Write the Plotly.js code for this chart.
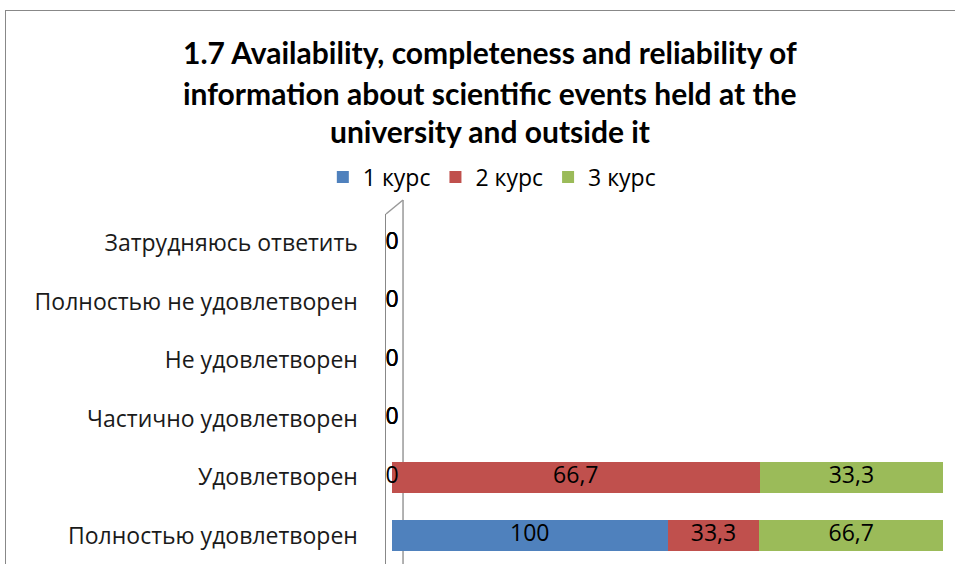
<!DOCTYPE html>
<html>
<head>
<meta charset="utf-8">
<script src="https://cdn.plot.ly/plotly-3.0.1.min.js"></script>
<style>
html,body{margin:0;padding:0;background:#fff;}
#wrap{position:relative;width:955px;height:564px;overflow:hidden;}
#chart{width:955px;height:564px;}
#frame{position:absolute;left:5px;top:10px;width:960px;height:600px;border-left:1px solid #888;border-top:1px solid #888;pointer-events:none;}
</style>
</head>
<body>
<div id="wrap"><div id="chart"></div><div id="frame"></div></div>
<script>
const categories = ['Полностью удовлетворен','Удовлетворен','Частично удовлетворен','Не удовлетворен','Полностью не удовлетворен','Затрудняюсь ответить'];
const seriesNames = ['1 курс','2 курс','3 курс'];
const kurs1 = [100, 0, 0, 0, 0, 0];
const kurs2 = [33.3, 66.7, 0, 0, 0, 0];
const kurs3 = [66.7, 33.3, 0, 0, 0, 0];
const titleLines = ['1.7 Availability, completeness and reliability of','information about scientific events held at the','university and outside it'];

const colors = ['#4F81BD','#C0504D','#9BBB59'];
const series = [kurs1, kurs2, kurs3];
const fmt = v => String(v).replace('.', ',');
const FONT = 'Open Sans, sans-serif';

const traces = [];
series.forEach((vals, i) => {
  traces.push({
    type:'bar', orientation:'h', name:seriesNames[i],
    x: vals, y: categories,
    marker:{color:colors[i], line:{width:0}},
    hoverinfo:'x+name'
  });
});
// labels centered in each (100%-normalised) segment; zero segments at their start
const lx = [], ly = [], lt = [];
categories.forEach((c, j) => {
  const total = series.reduce((s, vals) => s + vals[j], 0);
  let cum = 0;
  series.forEach(vals => {
    const p = total ? vals[j] / total * 100 : 0;
    lx.push(cum + p/2); ly.push(c); lt.push(fmt(vals[j]));
    cum += p;
  });
});
traces.push({type:'scatter', mode:'text', x:lx, y:ly, text:lt, textposition:'middle center',
  textfont:{family:FONT, size:23, color:'#000'}, showlegend:false, hoverinfo:'skip', cliponaxis:false});

const H = 564;
const mTop = 214, mLeft = 386;
const plotH = H - mTop, plotW = 955 - mLeft - 8;
const annotations = titleLines.map((t, k) => ({
  text:'<b>'+t+'</b>', xref:'paper', yref:'paper',
  x:(490-mLeft)/plotW, y:(H-[52,93,131][k])/plotH, xanchor:'center', yanchor:'middle',
  showarrow:false, font:{family:'Lato, Open Sans, sans-serif', size:30, color:'#000'}
}));

const layout = {
  width:955, height:564,
  margin:{l:mLeft, r:8, t:mTop, b:0, pad:0},
  paper_bgcolor:'#fff', plot_bgcolor:'rgba(0,0,0,0)',
  barmode:'stack', barnorm:'percent', bargap:0.47,
  showlegend:true,
  legend:{orientation:'h', xref:'container', yref:'container', x:0.515, y:1-177/564, xanchor:'center', yanchor:'middle',
    font:{family:FONT, size:23, color:'#000'}, traceorder:'normal'},
  xaxis:{range:[-1.09, 100.7], visible:false, showgrid:false, zeroline:false, fixedrange:true},
  yaxis:{type:'category', range:[-0.487, 5.5], showgrid:false, zeroline:false,
    showline:true, linecolor:'#888', linewidth:1.5,
    ticks:'outside', ticklen:22, tickcolor:'rgba(0,0,0,0)',
    tickfont:{family:FONT, size:23, color:'#1a1a1a'}},
  annotations: annotations,
  shapes:[{type:'line', layer:'below', xref:'x', yref:'paper', x0:2, x1:2, y0:0, y1:1.04, line:{color:'#999', width:1.5}},
          {type:'line', layer:'below', xref:'paper', yref:'paper', x0:0, x1:(403-mLeft)/plotW, y0:1, y1:1.04, line:{color:'#999', width:1.5}}]
};
Plotly.newPlot('chart', traces, layout, {displayModeBar:false, staticPlot:true});
</script>
</body>
</html>
